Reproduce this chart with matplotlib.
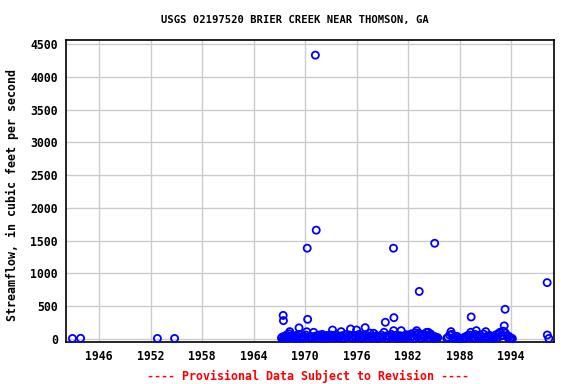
import matplotlib
matplotlib.use("Agg")
import matplotlib.pyplot as plt

title = "USGS 02197520 BRIER CREEK NEAR THOMSON, GA"
ylabel = "Streamflow, in cubic feet per second"
footer = "---- Provisional Data Subject to Revision ----"
xticks = [1946, 1952, 1958, 1964, 1970, 1976, 1982, 1988, 1994]
yticks = [0, 500, 1000, 1500, 2000, 2500, 3000, 3500, 4000, 4500]

dates = [
    1942.9, 1943.85, 1952.8, 1954.8,
    1967.25, 1967.35, 1967.45, 1967.48, 1967.55, 1967.65, 1967.75, 1967.85, 1967.95,
    1968.05, 1968.15, 1968.22, 1968.3, 1968.45, 1968.6, 1968.75, 1968.9,
    1969.0, 1969.15, 1969.3, 1969.35, 1969.5, 1969.65, 1969.8, 1969.95,
    1970.1, 1970.2, 1970.25, 1970.3, 1970.4, 1970.55, 1970.7, 1970.85,
    1971.0, 1971.1, 1971.2, 1971.3, 1971.35, 1971.5, 1971.65, 1971.8, 1971.95,
    1972.0, 1972.15, 1972.3, 1972.45, 1972.6, 1972.75, 1972.9,
    1973.05, 1973.2, 1973.3, 1973.45, 1973.6, 1973.75, 1973.9,
    1974.05, 1974.2, 1974.3, 1974.45, 1974.6, 1974.75, 1974.9,
    1975.05, 1975.2, 1975.3, 1975.45, 1975.6, 1975.75, 1975.9,
    1976.0, 1976.15, 1976.3, 1976.45, 1976.6, 1976.75, 1976.9,
    1977.0, 1977.1, 1977.25, 1977.4, 1977.55, 1977.7, 1977.85,
    1978.0, 1978.15, 1978.3, 1978.45, 1978.6, 1978.75, 1978.9,
    1979.05, 1979.2, 1979.35, 1979.45, 1979.6, 1979.75, 1979.9,
    1980.05, 1980.2, 1980.3, 1980.32, 1980.35, 1980.5, 1980.65, 1980.8, 1980.95,
    1981.1, 1981.2, 1981.35, 1981.5, 1981.65, 1981.8, 1981.95,
    1982.1, 1982.25, 1982.4, 1982.55, 1982.7, 1982.85, 1982.95,
    1983.0, 1983.1, 1983.25, 1983.3, 1983.4, 1983.55, 1983.7, 1983.85,
    1984.0, 1984.15, 1984.3, 1984.35, 1984.5, 1984.65, 1984.8, 1984.95,
    1985.05, 1985.1, 1985.2, 1985.3, 1985.45,
    1986.5, 1986.65, 1986.85, 1987.0, 1987.1, 1987.25, 1987.4, 1987.55, 1987.7, 1987.85, 1988.0,
    1988.45, 1988.6, 1988.75, 1988.9, 1989.05, 1989.2, 1989.3, 1989.35, 1989.5, 1989.65, 1989.8, 1989.95,
    1990.05, 1990.2, 1990.35, 1990.5, 1990.65, 1990.8, 1990.95,
    1991.05, 1991.2, 1991.35, 1991.5, 1991.65, 1991.8, 1991.95,
    1992.1, 1992.25, 1992.4, 1992.55, 1992.7, 1992.85,
    1993.0, 1993.1, 1993.2, 1993.3, 1993.35, 1993.5, 1993.6, 1993.75, 1993.9, 1994.05, 1994.15,
    1998.2, 1998.22, 1998.4,
]

flows = [
    8, 10, 8, 8,
    15, 30, 360, 280, 20, 45, 10, 60, 25,
    35, 80, 112, 20, 50, 15, 40, 10,
    55, 20, 170, 70, 30, 10, 45, 25,
    60, 110, 1385, 300, 20, 40, 15, 35,
    102, 30, 4330, 1660, 50, 15, 60, 25, 10,
    70, 30, 45, 15, 55, 20, 35,
    60, 137, 40, 15, 65, 25, 45,
    20, 112, 50, 10, 40, 70, 25,
    45, 60, 153, 30, 15, 55, 20,
    137, 40, 70, 25, 10, 50, 30,
    173, 60, 20, 45, 90, 15, 35,
    87, 25, 50, 10, 40, 20, 60,
    30, 102, 255, 45, 15, 55, 25,
    70, 40, 1385, 127, 325, 20, 60, 10, 35,
    50, 127, 25, 45, 15, 65, 30,
    55, 20, 80, 40, 10, 95, 60,
    127, 30, 90, 725, 50, 15, 70, 25,
    45, 100, 60, 102, 20, 75, 35, 10,
    40, 1460, 15, 25, 20,
    10, 25, 60, 112, 70, 15, 30, 10, 40, 15, 5,
    10, 30, 15, 50, 20, 60, 102, 336, 35, 15, 70, 127,
    45, 20, 60, 10, 35, 75, 25,
    112, 40, 15, 55, 20, 40, 10,
    30, 65, 20, 80, 102, 45,
    60, 120, 200, 453, 90, 50, 25, 40, 15, 10, 5,
    860, 61, 8,
]

fig = plt.figure(figsize=(5.76, 3.84), dpi=100)
ax = fig.add_axes([66/576, 1 - 342/384, (554-66)/576, (342-40)/384])

ax.scatter(dates, flows, s=26, facecolors='none', edgecolors='#0000ff',
           linewidths=1.3, zorder=3, clip_on=False)

ax.set_xlim(1942.15, 1999.0)
ax.set_ylim(-46, 4561)
ax.set_xticks(xticks)
ax.set_yticks(yticks)
ax.grid(True, color='#cccccc', linewidth=1.0, zorder=0)
ax.set_axisbelow(True)
ax.tick_params(length=0, pad=6)
for s in ax.spines.values():
    s.set_color('black')
    s.set_linewidth(1.2)

for lab in ax.get_xticklabels() + ax.get_yticklabels():
    lab.set_fontfamily('DejaVu Sans Mono')
    lab.set_fontweight('bold')
    lab.set_fontsize(8.3)

font = dict(family='DejaVu Sans Mono', weight='bold')
fig.text(295/576, 1 - 20/384, title, ha='center', va='center', size=7.6, **font)
fig.text(12/576, 1 - 195/384, ylabel, ha='center', va='center', rotation=90, size=8.4, **font)
fig.text(308/576, 1 - 376/384, footer, ha='center', va='center', color='red', size=8.4, **font)

fig.savefig('out.png', dpi=100)
